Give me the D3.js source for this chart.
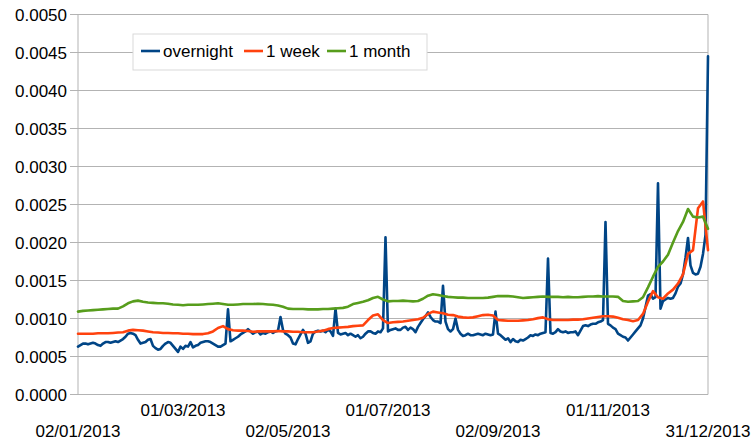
<!DOCTYPE html>
<html>
<head>
<meta charset="utf-8">
<script src="https://cdn.jsdelivr.net/npm/d3@7"></script>
<style>
  body { margin: 0; background: #fff; }
  svg { display: block; font-family: "Liberation Sans", Arial, sans-serif; }
  .grid line { stroke: #b3b3b3; stroke-width: 1; }
  .tickLabel { font-size: 17px; fill: #000; }
  .series { fill: none; stroke-width: 2.6; stroke-linejoin: round; stroke-linecap: round; }
</style>
</head>
<body>
<script>
// values are in units of 0.0001
const UNIT = 1e-4;

// overnight: one value per business day (index 0 = 02/01/2013)
const OVERNIGHT = [
  6.3,6.5,6.7,6.7,6.6,6.7,6.8,6.7,6.5,6.4,6.7,
  6.9,6.9,6.8,6.9,7.0,6.9,7.1,7.3,7.6,8.0,
  8.1,8.0,7.8,7.2,6.7,6.8,6.9,7.2,7.3,6.4,
  6.1,5.9,6.0,6.4,6.7,6.9,6.8,6.4,6.0,5.6,
  6.3,6.0,6.4,6.3,6.9,6.2,6.4,6.5,6.8,6.9,
  7.0,7.0,6.9,6.7,6.5,6.3,6.3,6.5,6.7,11.2,
  7.0,7.2,7.4,7.6,7.9,8.1,8.3,8.6,8.3,8.0,
  8.2,8.3,7.9,8.1,8.0,8.2,8.3,8.1,8.3,8.4,
  10.2,8.5,8.0,7.8,7.5,6.7,6.6,7.3,7.9,8.5,
  8.0,6.8,7.0,8.0,8.3,8.4,8.3,8.4,8.2,8.5,
  8.3,7.7,11.3,8.1,7.9,8.0,8.1,7.8,8.0,7.8,
  7.6,7.8,7.4,7.6,8.0,8.3,8.3,8.1,8.0,8.3,
  8.2,8.7,20.7,8.3,8.5,8.6,8.7,8.5,8.5,8.8,
  8.9,8.5,8.8,8.6,8.2,8.9,9.4,9.9,10.3,10.8,
  10.2,9.8,9.6,9.6,9.4,14.3,9.6,8.6,8.3,8.6,
  10.0,8.5,8.0,7.7,7.8,8.0,7.8,7.8,7.9,8.0,
  7.9,7.8,8.0,7.9,7.8,7.9,10.9,8.0,7.8,7.5,
  7.2,7.4,6.9,7.3,7.0,6.9,7.2,7.1,7.3,7.5,
  7.8,7.7,7.9,7.8,8.0,8.1,8.2,17.9,8.1,8.0,
  8.2,8.6,8.3,8.2,8.3,8.1,8.2,8.2,8.3,7.8,
  8.4,9.0,9.1,9.0,9.2,9.3,9.3,9.5,9.6,9.8,
  22.7,9.3,9.1,8.8,8.6,8.0,7.8,7.6,7.5,7.1,
  7.5,7.9,8.3,8.7,9.1,10.0,11.5,13.0,13.2,12.6,
  12.8,27.8,11.3,12.3,12.5,12.7,12.6,12.7,13.3,14.2,
  14.6,15.8,18.0,20.6,17.0,16.0,15.8,15.9,16.8,18.5,
  21.0,44.5
];

// 1 week and 1 month: every second business day
const WEEK = [
  8.0,8.0,8.0,8.0,8.05,8.05,8.05,8.1,8.15,8.2,
  8.4,8.5,8.45,8.4,8.3,8.2,8.15,8.1,8.1,8.05,
  8.05,8.0,8.0,7.95,7.95,7.95,8.05,8.3,8.75,9.0,
  8.6,8.45,8.4,8.4,8.35,8.25,8.3,8.3,8.3,8.3,
  8.35,8.3,8.3,8.25,8.25,8.2,8.2,8.2,8.3,8.4,
  8.6,8.75,8.8,8.85,8.9,9.0,9.05,9.1,9.8,10.4,
  10.55,9.8,9.4,9.5,9.55,9.6,9.7,9.8,9.9,10.1,
  10.6,10.9,10.8,10.7,10.5,10.45,10.25,10.15,10.1,10.15,
  10.3,10.45,10.5,10.4,9.8,9.75,9.7,9.7,9.7,9.75,
  9.8,9.9,10.05,10.15,9.9,9.8,9.8,9.8,9.8,9.85,
  9.85,9.9,10.0,10.1,10.2,10.3,10.3,10.25,10.1,9.9,
  9.8,9.65,9.8,10.6,12.2,13.6,12.8,12.6,13.3,13.8,
  14.6,15.8,18.5,19.0,24.5,25.4,19.0
];

const MONTH = [
  10.9,11.0,11.05,11.1,11.15,11.2,11.25,11.3,11.3,11.6,
  12.0,12.25,12.35,12.2,12.1,12.05,12.0,12.0,11.95,11.85,
  11.8,11.75,11.8,11.8,11.8,11.85,11.9,11.95,12.0,11.9,
  11.8,11.8,11.85,11.9,11.9,11.9,11.95,11.9,11.85,11.8,
  11.7,11.55,11.3,11.25,11.25,11.25,11.2,11.2,11.2,11.25,
  11.25,11.3,11.35,11.4,11.55,11.9,12.05,12.2,12.4,12.7,
  12.85,12.5,12.25,12.3,12.3,12.35,12.3,12.25,12.3,12.6,
  13.0,13.2,13.1,12.95,12.85,12.8,12.75,12.75,12.7,12.7,
  12.7,12.7,12.75,12.85,12.95,12.95,12.95,12.9,12.8,12.7,
  12.75,12.8,12.85,12.9,12.85,12.85,12.85,12.8,12.85,12.8,
  12.8,12.85,12.9,12.9,12.95,12.9,12.9,12.9,12.85,12.3,
  12.2,12.25,12.3,12.8,14.1,15.5,16.8,17.5,18.4,20.0,
  21.5,22.7,24.4,23.4,23.3,23.4,21.8
];

const X_TICK_IDX = [0, 42, 84, 124, 168, 212, 252];
const X_TICK_LABELS = ["02/01/2013", "01/03/2013", "02/05/2013", "01/07/2013", "02/09/2013", "01/11/2013", "31/12/2013"];
const Y_TICKS = [0, 0.0005, 0.001, 0.0015, 0.002, 0.0025, 0.003, 0.0035, 0.004, 0.0045, 0.005];

const SERIES = [
  { name: "overnight", color: "#004586", step: 1, values: OVERNIGHT },
  { name: "1 week", color: "#ff420e", step: 2, values: WEEK },
  { name: "1 month", color: "#579d1c", step: 2, values: MONTH }
];

const width = 754;
const height = 441;
const margin = { top: 14.5, right: 46, bottom: 46.5, left: 78 };

const xScale = d3.scaleLinear()
                 .domain([0, 252])
                 .range([margin.left, width - margin.right]);
const yScale = d3.scaleLinear()
                 .domain([0, 0.005])
                 .range([height - margin.bottom, margin.top]);

const svg = d3.select("body")
              .append("svg")
              .attr("width", width)
              .attr("height", height);

// grid + y labels
const grid = svg.append("g").attr("class", "grid");
grid.selectAll("line.h")
  .data(Y_TICKS)
  .enter()
  .append("line")
  .attr("class", "h")
  .attr("x1", margin.left - 8)
  .attr("x2", width - margin.right)
  .attr("y1", d => yScale(d))
  .attr("y2", d => yScale(d));

grid.append("line")
  .attr("x1", margin.left).attr("x2", margin.left)
  .attr("y1", margin.top).attr("y2", height - margin.bottom);
grid.append("line")
  .attr("x1", width - margin.right).attr("x2", width - margin.right)
  .attr("y1", margin.top).attr("y2", height - margin.bottom);

svg.append("g")
  .selectAll("text")
  .data(Y_TICKS)
  .enter()
  .append("text")
  .attr("class", "tickLabel")
  .attr("x", margin.left - 11)
  .attr("y", d => yScale(d) + 6.5)
  .attr("text-anchor", "end")
  .text(d3.format(".4f"));

// x labels, staggered on two rows
svg.append("g")
  .selectAll("text")
  .data(X_TICK_IDX)
  .enter()
  .append("text")
  .attr("class", "tickLabel")
  .attr("x", d => xScale(d))
  .attr("y", (_, i) => i % 2 ? 416 : 436.5)
  .attr("text-anchor", "middle")
  .text((_, i) => X_TICK_LABELS[i]);

// lines
const line = d3.line()
               .x(d => xScale(d.i))
               .y(d => yScale(d.v));

svg.append("g")
  .selectAll("path")
  .data(SERIES)
  .enter()
  .append("path")
  .attr("class", "series")
  .attr("stroke", d => d.color)
  .attr("d", s => line(s.values.map((v, k) => ({ i: k * s.step, v: v * UNIT }))));

// legend
const legend = svg.append("g").attr("transform", "translate(133,34)");
legend.append("rect")
  .attr("width", 294)
  .attr("height", 36)
  .attr("fill", "#fff")
  .attr("stroke", "#d9d9d9");

const legendX = [8, 111, 194];
const item = legend.selectAll("g")
  .data(SERIES)
  .enter()
  .append("g")
  .attr("transform", (_, i) => `translate(${legendX[i]},0)`);
item.append("line")
  .attr("x1", 0).attr("x2", 19)
  .attr("y1", 17).attr("y2", 17)
  .attr("stroke", d => d.color)
  .attr("stroke-width", 2.6);
item.append("text")
  .attr("class", "tickLabel")
  .attr("x", 22)
  .attr("y", 23)
  .text(d => d.name);
</script>
</body>
</html>
